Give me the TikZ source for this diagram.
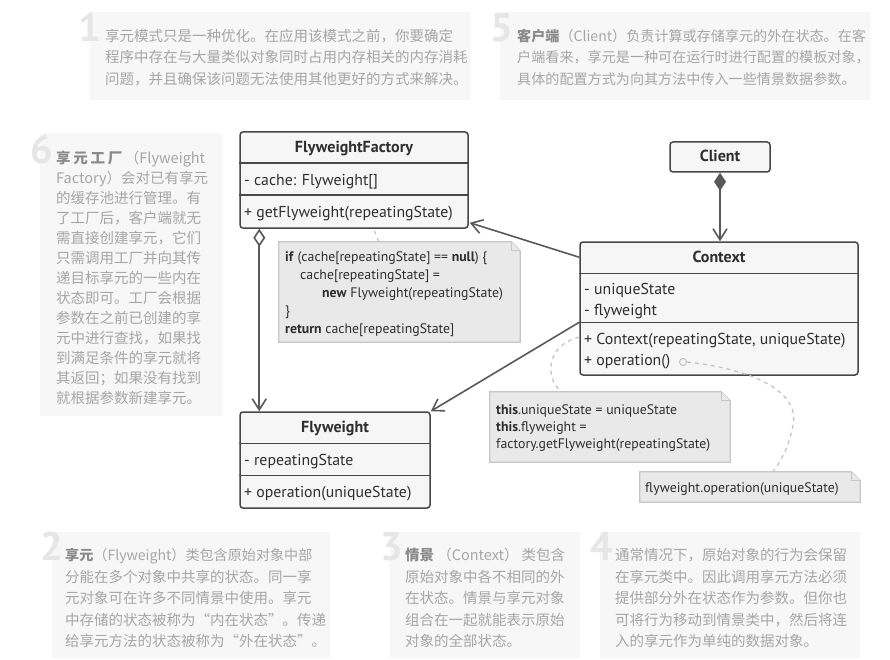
\documentclass[tikz,border=0pt]{standalone}
\usepackage{fontspec}
\setmainfont{PT Sans}
\newfontfamily\cjk{Noto Sans CJK SC}
\newfontfamily\numfont{PT Sans}
\usetikzlibrary{arrows.meta,calc}
\definecolor{notebg}{HTML}{F7F7F7}
\definecolor{numc}{HTML}{E6E6E6}
\definecolor{ntxt}{HTML}{A6A6A6}
\definecolor{nbold}{HTML}{8A8A8A}
\definecolor{boxfill}{HTML}{F6F6F6}
\definecolor{boxline}{HTML}{474747}
\definecolor{codefill}{HTML}{E9E9E9}
\definecolor{codeline}{HTML}{C6C6C6}
\definecolor{linec}{HTML}{595959}
\definecolor{dashc}{HTML}{C2C2C2}
\definecolor{txtc}{HTML}{2E2E2E}
\tikzset{
 bgnote/.style={fill=notebg, draw=none},
 numeral/.style={anchor=base east, inner sep=0, text=numc, font=\numfont\bfseries\fontsize{40}{40}\selectfont},
 ntext/.style={anchor=base west, inner sep=0, text=ntxt, font=\cjk\fontsize{14.5}{18}\selectfont},
 ntextb/.style={ntext, font=\cjk\fontsize{14.1}{18}\selectfont},
 classbox/.style={draw=boxline, fill=boxfill, line width=1.5pt, rounded corners=3pt, inner sep=0},
 divider/.style={draw=boxline, line width=1.5pt},
 hdr/.style={anchor=base, inner sep=0, text=txtc, font=\bfseries\fontsize{16}{18}\selectfont},
 member/.style={anchor=base west, inner sep=0, text=txtc, font=\fontsize{15.8}{18}\selectfont},
 notebody/.style={fill=codefill, draw=codeline, line width=1.2pt},
 codetext/.style={anchor=base west, inner sep=0, text=txtc, font=\fontsize{13.8}{16}\selectfont},
 conn/.style={draw=linec, line width=1.6pt},
 dashline/.style={draw=dashc, line width=1.2pt, dash pattern=on 4pt off 4pt},
}
\newcommand\tline[4]{\node[ntext] (#1) at (#2,#3) {#4};}
\newcommand\tlineb[4]{\node[ntextb] (#1) at (#2,#3) {#4};}
\newcommand\bld[1]{{\bfseries\color{nbold}#1}}
\newcommand\foldnote[1]{%
  \draw[notebody] (#1.south west) -- (#1.north west) -- ($(#1.north east)+(-9,0)$) -- ($(#1.north east)+(0,9)$) -- (#1.south east) -- cycle;
  \draw[notebody] ($(#1.north east)+(-9,0)$) -- ($(#1.north east)+(-9,9)$) -- ($(#1.north east)+(0,9)$);}
\begin{document}
\begin{tikzpicture}[x=1pt,y=-1pt]
\useasboundingbox[fill=white] (0,0) rectangle (890,660);

% ---------- background notes ----------
\fill[bgnote] (90,12) rectangle (470,100);
\node[numeral] (num1) at (101,41.5) {1};
\tline{n1a}{105}{41.5}{享元模式只是一种优化。在应用该模式之前，你要确定}
\tline{n1b}{105}{63}{程序中存在与大量类似对象同时占用内存相关的内存消耗}
\tline{n1c}{105}{84.5}{问题，并且确保该问题无法使用其他更好的方式来解决。}

\fill[bgnote] (500,12) rectangle (870,100);
\node[numeral] (num5) at (513,41.5) {5};
\tlineb{n5a}{517}{41.5}{\bld{客户端}（Client）负责计算或存储享元的外在状态。在客}
\tlineb{n5b}{517}{63}{户端看来，享元是一种可在运行时进行配置的模板对象，}
\tlineb{n5c}{517}{84.5}{具体的配置方式为向其方法中传入一些情景数据参数。}

\fill[bgnote] (40,133) rectangle (222,416);
\node[numeral] (num6) at (53,163.5) {6};
\tline{n6a}{56}{163.5}{\makebox[149pt][s]{\bld{享\hfil 元\hfil 工\hfil 厂}\hfil （Flyweight}}
\tline{n6b}{56}{183.5}{\makebox[149pt][s]{Factory）\hfil 会对已有享元}}
\tline{n6c}{56}{203.5}{的缓存池进行管理。有}
\tline{n6d}{56}{223.5}{了工厂后，客户端就无}
\tline{n6e}{56}{243.5}{需直接创建享元，它们}
\tline{n6f}{56}{263.5}{只需调用工厂并向其传}
\tline{n6g}{56}{283.5}{递目标享元的一些内在}
\tline{n6h}{56}{303.5}{状态即可。工厂会根据}
\tline{n6i}{56}{323.5}{参数在之前已创建的享}
\tline{n6j}{56}{343.5}{元中进行查找，如果找}
\tline{n6k}{56}{363.5}{到满足条件的享元就将}
\tline{n6l}{56}{383.5}{其返回；如果没有找到}
\tline{n6m}{56}{403.5}{就根据参数新建享元。}

\fill[bgnote] (52,532) rectangle (330,658);
\node[numeral] (num2) at (63,560.5) {2};
\tlineb{n2a}{65}{560.5}{\bld{享元}（Flyweight）类包含原始对象中部}
\tline{n2b}{65}{582}{分能在多个对象中共享的状态。同一享}
\tline{n2c}{65}{603.5}{元对象可在许多不同情景中使用。享元}
\tline{n2d}{65}{625}{中存储的状态被称为“内在状态”。传递}
\tline{n2e}{65}{646.5}{给享元方法的状态被称为“外在状态”。}

\fill[bgnote] (390,532) rectangle (580,658);
\node[numeral] (num3) at (403,560.5) {3};
\tline{n3a}{405}{560.5}{\makebox[160pt][s]{\bld{情景}\hfil （Context）\hfil 类包含}}
\tline{n3b}{405}{582}{原始对象中各不相同的外}
\tline{n3c}{405}{603.5}{在状态。情景与享元对象}
\tline{n3d}{405}{625}{组合在一起就能表示原始}
\tline{n3e}{405}{646.5}{对象的全部状态。}

\fill[bgnote] (600,532) rectangle (860,658);
\node[numeral] (num4) at (613,560.5) {4};
\tline{n4a}{615}{560.5}{通常情况下，原始对象的行为会保留}
\tline{n4b}{615}{582}{在享元类中。因此调用享元方法必须}
\tline{n4c}{615}{603.5}{提供部分外在状态作为参数。但你也}
\tline{n4d}{615}{625}{可将行为移动到情景类中，然后将连}
\tline{n4e}{615}{646.5}{入的享元作为单纯的数据对象。}

% ---------- code notes ----------
\node[minimum width=241pt, minimum height=100pt, inner sep=0] (cn1) at (399.5,292) {};
\foldnote{cn1}
\node[codetext] (cn1a) at (285,261.5) {\textbf{if} (cache[repeatingState] == \textbf{null}) \{};
\node[codetext] (cn1b) at (300,279) {cache[repeatingState] =};
\node[codetext] (cn1c) at (322,297) {\textbf{new} Flyweight(repeatingState)};
\node[codetext] (cn1d) at (285,315) {\}};
\node[codetext] (cn1e) at (285,333) {\textbf{return} cache[repeatingState]};

\node[minimum width=240pt, minimum height=70pt, inner sep=0] (cn2) at (610,427) {};
\foldnote{cn2}
\node[codetext] (cn2a) at (496,414.5) {\textbf{this}.uniqueState = uniqueState};
\node[codetext] (cn2b) at (496,431.5) {\textbf{this}.flyweight =};
\node[codetext] (cn2c) at (496,448) {factory.getFlyweight(repeatingState)};

\node[minimum width=220pt, minimum height=30pt, inner sep=0] (cn3) at (750,487) {};
\foldnote{cn3}
\node[codetext] (cn3a) at (645,492) {flyweight.operation(uniqueState)};

% ---------- classes ----------
\node[classbox, minimum width=228pt, minimum height=96pt] (ff) at (354,180) {};
\draw[divider] ($(ff.north west)+(0,32)$) -- ($(ff.north east)+(0,32)$);
\draw[divider] ($(ff.north west)+(0,64)$) -- ($(ff.north east)+(0,64)$);
\node[hdr] (ffh) at ($(ff.north)+(0,21.5)$) {FlyweightFactory};
\node[member] (ffa) at (244,185.5) {- cache: Flyweight[]};
\node[member] (ffo) at (244,217.5) {+ getFlyweight(repeatingState)};

\node[classbox, minimum width=100pt, minimum height=30pt] (cl) at (720,157) {};
\node[hdr] (clh) at ($(cl.north)+(0,20.5)$) {Client};

\node[classbox, minimum width=278pt, minimum height=133pt] (ctx) at (719,308.5) {};
\draw[divider] ($(ctx.north west)+(0,32)$) -- ($(ctx.north east)+(0,32)$);
\draw[divider] ($(ctx.north west)+(0,81)$) -- ($(ctx.north east)+(0,81)$);
\node[hdr] (ctxh) at ($(ctx.north)+(0,21.5)$) {Context};
\node[member] (ctxa) at (584,294.5) {- uniqueState};
\node[member] (ctxb) at (584,315) {- flyweight};
\node[member] (ctxc) at (584,344.5) {+ Context(repeatingState, uniqueState)};
\node[member] (ctxd) at (584,365.5) {+ operation()};
\node[circle, draw=dashc, line width=1pt, minimum size=7pt, inner sep=0] (opc) at (683,362) {};

\node[classbox, minimum width=190pt, minimum height=96pt] (fw) at (335,460) {};
\draw[divider] ($(fw.north west)+(0,32)$) -- ($(fw.north east)+(0,32)$);
\draw[divider] ($(fw.north west)+(0,64)$) -- ($(fw.north east)+(0,64)$);
\node[hdr] (fwh) at ($(fw.north)+(0,21.5)$) {Flyweight};
\node[member] (fwa) at (244,465.5) {- repeatingState};
\node[member] (fwo) at (244,497.5) {+ operation(uniqueState)};

% ---------- connectors ----------
\draw[conn, {Diamond[fill=linec,length=18pt,width=12pt]}-{Straight Barb[length=11pt,width=14pt]}]
  (cl.south) -- (cl.south |- ctx.north);
\draw[conn, -{Straight Barb[length=11pt,width=14pt]}]
  ($(ctx.north west)+(0,16)$) -- ($(ff.south east)+(1,-6)$);
\draw[conn, -{Straight Barb[length=11pt,width=14pt]}]
  ($(ctx.north west)+(0,81)$) -- (fw.north east);
\draw[conn, {Diamond[fill=white,length=18pt,width=12pt]}-{Straight Barb[length=11pt,width=14pt]}]
  ($(ff.south west)+(20,0)$) -- ($(fw.north west)+(20,0)$);

\draw[dashline] ($(cn1.north west)+(100,0)$) -- ($(ff.south west)+(135,2)$);
\draw[dashline] ($(ctx.north west)+(0,96)$) .. controls (545,345) and (545,380) .. ($(cn2.north west)+(72,0)$);
\draw[dashline] (opc.east) .. controls (760,370) and (800,395) .. (793,425) .. controls (788,450) and (780,462) .. ($(cn3.north west)+(133,0)$);
\end{tikzpicture}
\end{document}
